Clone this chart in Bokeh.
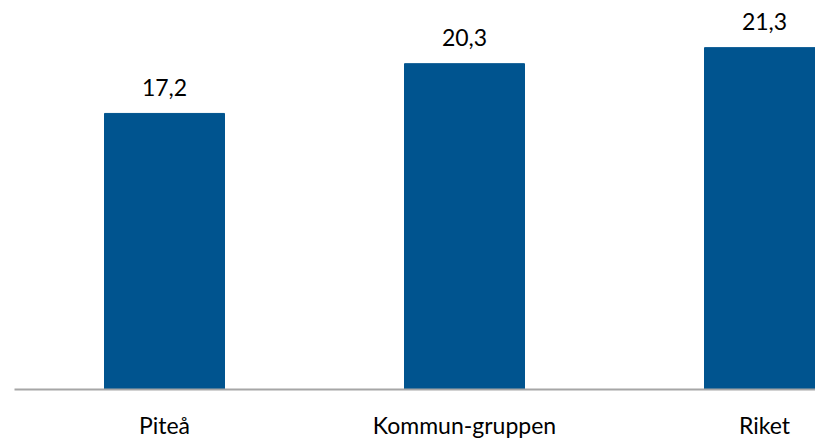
from bokeh.plotting import figure
from bokeh.models import ColumnDataSource, Range1d
from bokeh.core.properties import value
from bokeh.embed import file_html
from bokeh.resources import INLINE

categories = ["Piteå", "Kommun-gruppen", "Riket"]
values = [17.2, 20.3, 21.3]
labels = ["17,2", "20,3", "21,3"]

xpos = [i + 0.5 for i in range(len(categories))]
zeros = [0.0] * len(categories)
src = ColumnDataSource(dict(x=xpos, top=values, lab=labels, cat=categories, zero=zeros))

W, H = 815, 438
X0, Y0 = 14, 389          # pixel position of the category axis origin
PX_PER_CAT, PX_PER_UNIT = 300, 16.05

p = figure(width=W, height=H, output_backend="svg", toolbar_location=None,
           x_range=Range1d(-X0 / PX_PER_CAT, (W - X0) / PX_PER_CAT),
           y_range=Range1d(-(H - Y0) / PX_PER_UNIT, Y0 / PX_PER_UNIT),
           min_border=0, min_border_left=0, min_border_right=0,
           min_border_top=0, min_border_bottom=0)
p.outline_line_color = None
p.background_fill_color = "white"
p.border_fill_color = "white"
p.grid.visible = False
p.axis.visible = False

p.vbar(x="x", top="top", width=0.4, bottom=0, source=src, color="#00548F")

# category axis line
p.segment(x0=[0], y0=[0], x1=[len(categories)], y1=[0], line_color="#A6A6A6", line_width=2)

# category labels
p.text(x="x", y="zero", text="cat", source=src, text_align="center",
       text_baseline="middle", y_offset=35, text_font=value("Lato"),
       text_font_size="23px", text_color="black")

# value labels
p.text(x="x", y="top", text="lab", source=src, text_align="center",
       text_baseline="middle", y_offset=-26, text_font=value("Lato"),
       text_font_size="23px", text_color="black")

open("out.html", "w").write(file_html(p, INLINE))
